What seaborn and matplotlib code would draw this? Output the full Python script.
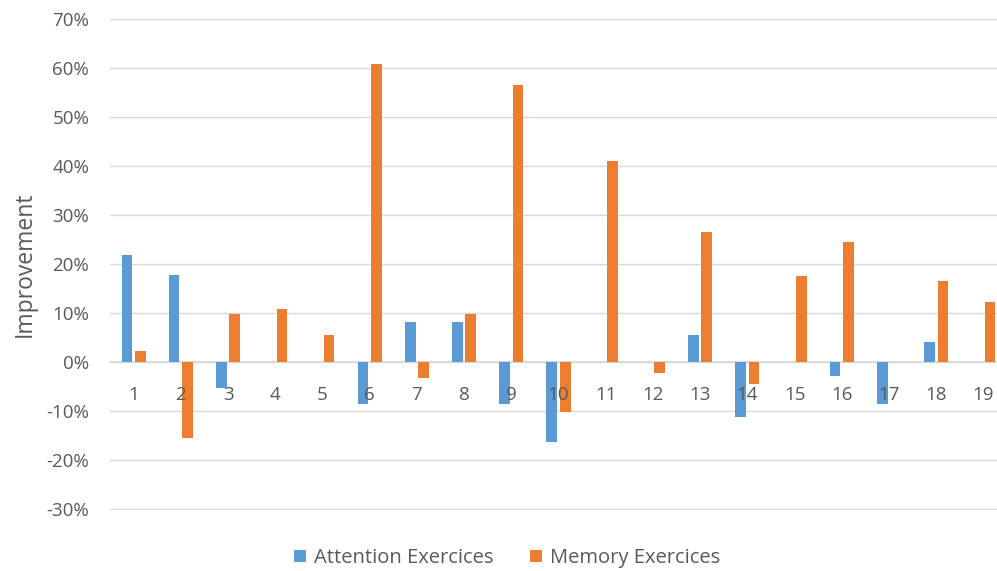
import matplotlib
matplotlib.use("Agg")
import matplotlib.pyplot as plt
from matplotlib.ticker import PercentFormatter
import seaborn as sns
import pandas as pd

participants = [str(i) for i in range(1, 20)]
attention = [21.9, 17.9, -5.3, 0.0, 0.0, -8.5, 8.2, 8.2, -8.5, -16.4,
             0.0, 0.0, 5.5, -11.3, 0.0, -2.9, -8.6, 4.1, 0.0]
memory = [2.2, -15.4, 9.8, 10.9, 5.5, 60.9, -3.3, 9.9, 56.6, -10.1,
          41.0, -2.3, 26.6, -4.4, 17.6, 24.5, 0.0, 16.6, 12.3]
series_names = ["Attention Exercices", "Memory Exercices"]
colors = ["#5B9BD5", "#ED7D31"]
y_ticks = list(range(-30, 71, 10))

df = pd.DataFrame({
    "Participant": participants * 2,
    "Improvement": attention + memory,
    "Series": [series_names[0]] * len(participants) + [series_names[1]] * len(participants),
})

sns.set_theme(style="white")
plt.rcParams["font.family"] = ["Open Sans", "DejaVu Sans"]
plt.rcParams["axes.unicode_minus"] = False
text_color = "#595959"

fig = plt.figure(figsize=(9.97, 5.71), dpi=100)
ax = fig.add_axes([110 / 997, 1 - 510 / 571, 897 / 997, (510 - 18.5) / 571])

sns.barplot(data=df, x="Participant", y="Improvement", hue="Series",
            order=participants, hue_order=series_names, palette=colors,
            width=0.566, gap=0.2, ax=ax, legend=True, saturation=1,
            linewidth=0)

# a small margin keeps the outer gridlines fully visible
ax.set_ylim(-30.2, 70.2)
ax.set_xlim(-0.5, len(participants) - 0.5)
ax.set_yticks(y_ticks)
ax.yaxis.set_major_formatter(PercentFormatter(decimals=0))
ax.grid(axis="y", color="#D9D9D9", linewidth=1)
ax.set_axisbelow(True)
# category labels sit on top of the bars, the zero line stays behind them
ax.xaxis.set_zorder(3)
for side in ["top", "right", "left"]:
    ax.spines[side].set_visible(False)
ax.spines["bottom"].set_position(("data", 0))
ax.spines["bottom"].set_color("#D9D9D9")
ax.spines["bottom"].set_zorder(0.6)
ax.tick_params(axis="x", length=0, pad=17, labelsize=13.5, labelcolor=text_color)
ax.tick_params(axis="y", length=0, pad=15, labelsize=13.5, labelcolor=text_color)
ax.set_xlabel("")
ax.set_ylabel("Improvement", fontsize=16.5, color=text_color, labelpad=7)

handles, labels = ax.get_legend_handles_labels()
ax.legend(handles, labels, loc="center", bbox_to_anchor=(507 / 997, 1 - 558 / 571),
          bbox_transform=fig.transFigure, ncol=2, frameon=False,
          fontsize=14.5, labelcolor=text_color, handlelength=0.6, handleheight=0.6,
          handletextpad=0.4, columnspacing=1.8)

fig.savefig("out.png", dpi=100)
